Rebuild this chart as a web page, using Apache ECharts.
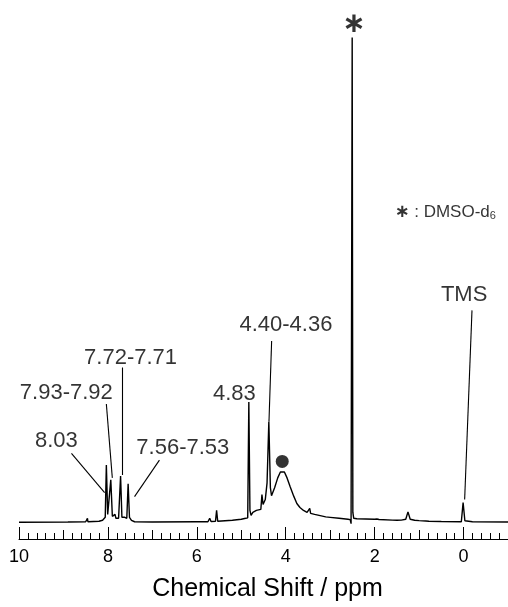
<!DOCTYPE html>
<html>
<head>
<meta charset="utf-8">
<script src="https://cdn.jsdelivr.net/npm/echarts@6/dist/echarts.min.js"></script>
<style>html,body{margin:0;padding:0;background:#fff}#c{width:508px;height:607px}</style>
</head>
<body>
<div id="c"></div>
<script>
// Spectrum points: chemical shift (ppm) and intensity (arbitrary, baseline = 0)
const shiftPpm = [10.0, 8.9, 8.5, 8.47, 8.46, 8.45, 8.2, 8.12, 8.10, 8.08, 8.06,
  8.055, 8.035, 8.005, 7.985, 7.935, 7.90, 7.87, 7.84, 7.82, 7.78, 7.76,
  7.745, 7.715, 7.685, 7.65, 7.62, 7.59, 7.575, 7.545, 7.515, 7.49, 7.47, 7.4,
  7.0, 6.0, 5.75, 5.71, 5.68, 5.58, 5.555, 5.53, 5.2, 5.0, 4.9,
  4.855, 4.83, 4.805, 4.78, 4.74, 4.71, 4.66, 4.56, 4.535, 4.51,
  4.46, 4.42, 4.38, 4.345, 4.32, 4.25, 4.18, 4.12, 4.08, 4.03, 3.97, 3.90, 3.82,
  3.75, 3.68, 3.6, 3.52, 3.48, 3.46, 3.44, 3.35, 3.25, 3.1, 3.0, 2.8, 2.6, 2.55,
  2.53, 2.52, 2.505, 2.49, 2.47, 2.4, 2.2, 2.0, 1.95, 1.9, 1.6, 1.5, 1.4, 1.3,
  1.25, 1.2, 1.1, 1.0, 0.85, 0.82, 0.78, 0.5, 0.05, 0.01, -0.03, -0.2, -1.0];
const intensity = [0, 0.3, 0.5, 0.5, 4, 0.5, 1, 2, 3, 2.5, 5,
  5, 58, 8, 7, 43, 6, 4, 8, 4, 6, 4,
  5, 47, 5, 3, 5, 3, 4, 39, 5, 3, 2, 0.5,
  0.3, 0.5, 0.5, 4, 0.8, 1, 12, 1, 2, 3, 4,
  4.5, 122, 12, 7, 10, 8, 12, 13, 28, 18,
  23, 40, 102, 35, 27, 35, 45, 51, 53, 51, 45, 36, 26.5,
  19, 15, 12, 10, 9, 14, 9, 8, 7, 5.5, 5, 4, 3, 2.7,
  -1.5, 0, 492, 10, 4, 3.5, 3.3, 3, 3.3, 2.8, 2.2, 2, 2.2, 3,
  10.5, 3, 2, 1.6, 1.2, 3, 1, 0.7, 0.5, 20, 1.5, 0.5, 0.3];

// Axis tick values
const majorTickValues = [10, 8, 6, 4, 2, 0];
const midTickValues = [9, 7, 5, 3, 1, -1];

// Peak annotations (text centre in data coordinates)
const peakLabelText = ['8.03', '7.93-7.92', '7.72-7.71', '7.56-7.53', '4.83', '4.40-4.36', 'TMS'];
const peakLabelPpm = [9.158, 8.936, 7.49, 6.315, 5.155, 3.996, -0.013];
const peakLabelHeight = [82.5, 131.5, 166.5, 75, 130.5, 200, 231];

// Leader lines: [ppm start, height start, ppm end, height end]
const leaderStartPpm = [8.82, 8.035, 7.677, 6.841, 4.317, -0.19];
const leaderStartHeight = [70, 120, 157, 63, 184, 215];
const leaderEndPpm = [8.074, 7.901, 7.677, 7.401, 4.377, -0.025];
const leaderEndHeight = [30, 45, 48, 26, 102, 23];

// Markers
const dotPosition = [4.079, 61.7];
const starPosition = [2.462, 504.5];
const notePosition = [1.555, 315];

const font = '"Liberation Sans", Arial, sans-serif';
const chart = echarts.init(document.getElementById('c'), null, {renderer: 'canvas'});

const spectrum = shiftPpm.map((x, i) => [x, intensity[i]]);
const leaders = leaderStartPpm.map((x, i) => ({
  coords: [[x, leaderStartHeight[i]], [leaderEndPpm[i], leaderEndHeight[i]]]
}));
const labels = peakLabelText.map((t, i) => ({value: [peakLabelPpm[i], peakLabelHeight[i]], name: t}));

const baseX = {
  type: 'value', min: -1, max: 10, inverse: true, interval: 1,
  gridIndex: 0, position: 'bottom', splitLine: {show: false}
};

chart.setOption({
  animation: false,
  backgroundColor: '#ffffff',
  grid: {left: 19, right: -2, top: 0, bottom: 60, containLabel: false},
  xAxis: [
    Object.assign({}, baseX, {
      axisLine: {show: true, onZero: false, lineStyle: {color: '#000', width: 1}},
      axisTick: {show: true, inside: true, length: 12, customValues: majorTickValues, lineStyle: {color: '#000', width: 1}},
      minorTick: {show: true, splitNumber: 5, length: 6, lineStyle: {color: '#000', width: 1}},
      axisLabel: {show: true, customValues: majorTickValues, margin: 9, color: '#000', fontSize: 18, fontFamily: font,
        formatter: v => String(v)},
      name: 'Chemical Shift / ppm', nameLocation: 'middle', nameGap: 38,
      nameTextStyle: {color: '#000', fontSize: 25, fontFamily: font, padding: [0, 0, 0, 8]}
    }),
    Object.assign({}, baseX, {
      axisLine: {show: false, onZero: false},
      axisTick: {show: true, inside: true, length: 9, customValues: midTickValues, lineStyle: {color: '#000', width: 1}},
      minorTick: {show: false},
      axisLabel: {show: false}
    })
  ],
  yAxis: {type: 'value', min: -17, max: 530, show: false, splitLine: {show: false}},
  series: [
    {
      type: 'line', data: spectrum, xAxisIndex: 0, showSymbol: false, symbol: 'none',
      lineStyle: {color: '#000', width: 1.4}, silent: true, clip: false
    },
    {
      type: 'lines', coordinateSystem: 'cartesian2d', xAxisIndex: 0, data: leaders,
      lineStyle: {color: '#000', width: 1.1, opacity: 1}, symbol: 'none', silent: true
    },
    {
      type: 'scatter', xAxisIndex: 0, data: labels, symbolSize: 0, silent: true,
      label: {show: true, position: 'inside', formatter: p => p.name, color: '#000',
        fontSize: 22, fontFamily: font, align: 'center', verticalAlign: 'middle'}
    },
    {
      type: 'scatter', xAxisIndex: 0, data: [dotPosition], symbol: 'circle', symbolSize: 13,
      itemStyle: {color: '#000'}, silent: true
    },
    {
      type: 'scatter', xAxisIndex: 0, data: [starPosition], symbolSize: 0, silent: true,
      label: {show: true, position: 'inside', formatter: '\u2217', color: '#000',
        fontSize: 28, fontFamily: '"DejaVu Sans"', fontWeight: 'bold', align: 'center', verticalAlign: 'middle'}
    },
    {
      type: 'scatter', xAxisIndex: 0, data: [notePosition], symbolSize: 0, silent: true,
      label: {show: true, position: 'inside', align: 'left', verticalAlign: 'middle',
        formatter: '{a|\u2217}{t| : DMSO-d}{s|6}',
        rich: {
          a: {fontSize: 18, fontFamily: '"DejaVu Sans"', color: '#000', fontWeight: 'bold'},
          t: {fontSize: 17, fontFamily: font, color: '#000'},
          s: {fontSize: 11, fontFamily: font, color: '#000', verticalAlign: 'bottom', padding: [9, 0, 0, 0]}
        }}
    }
  ]
});
</script>
</body>
</html>
